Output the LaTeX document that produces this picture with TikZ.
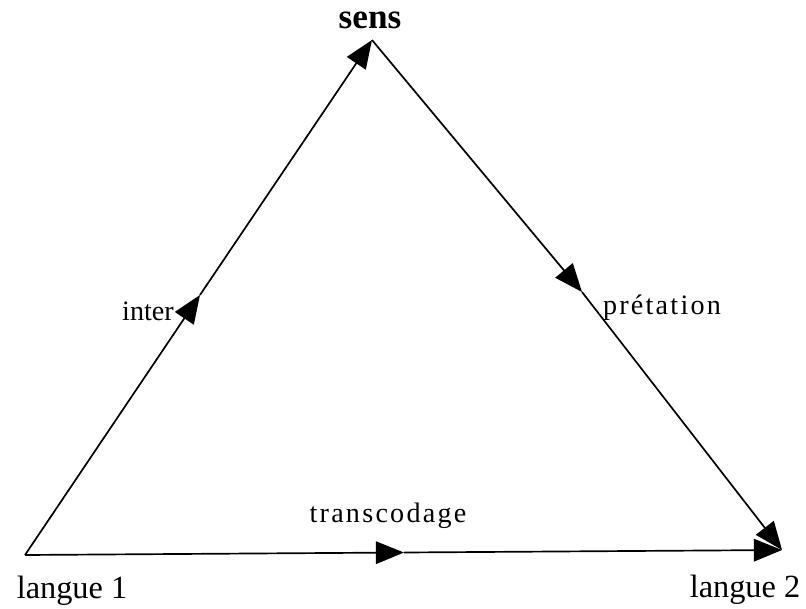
\documentclass[tikz,border=0pt]{standalone}
\usepackage{fontspec}
\setmainfont{Liberation Serif}
\usetikzlibrary{arrows.meta}
\begin{document}
\begin{tikzpicture}[x=0.025cm,y=-0.025cm,
  edge/.style={line width=1.2pt,black},
  tip/.style={-{Triangle[length=20pt,width=16pt]}},
  lab/.style={font=\fontsize{20}{22}\selectfont, inner sep=0pt},
  spaced/.style={font=\fontsize{20}{22}\selectfont\addfontfeature{LetterSpace=8}, inner sep=0pt},
  biglab/.style={font=\fontsize{23}{26}\selectfont, inner sep=0pt}]
\useasboundingbox (0,0) rectangle (806,609);
\coordinate (A) at (372,40);
\coordinate (L) at (25,555);
\coordinate (R) at (782,550);
\coordinate (ml) at (200,295);
\coordinate (mr) at (582,292);
\coordinate (mb) at (404,552.5);
\draw[edge,tip] (L) -- (ml);
\draw[edge,tip] (ml) -- (A);
\draw[edge,tip] (A) -- (mr);
\draw[edge,tip] (mr) -- (R);
\draw[edge,tip] (L) -- (mb);
\draw[edge,tip] (mb) -- (R);
\node[inner sep=0pt,font=\bfseries\fontsize{25}{27}\selectfont] (sens) at (370,20) {sens};
\node[lab,anchor=east] (inter) at (174,311) {inter};
\node[spaced] (pret) at (662,308) {prétation};
\node[spaced] (trans) at (388,516) {transcodage};
\node[biglab] (l1) at (72,591) {langue 1};
\node[biglab] (l2) at (745,590) {langue 2};
\end{tikzpicture}
\end{document}
